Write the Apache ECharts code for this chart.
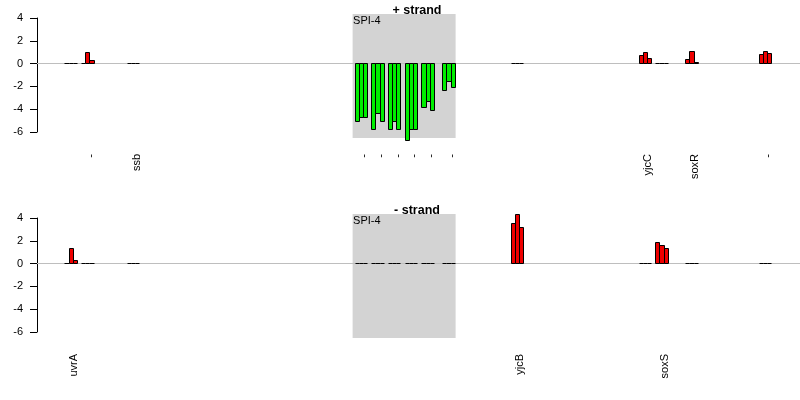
<!DOCTYPE html>
<html><head><meta charset="utf-8">
<script src="https://cdn.jsdelivr.net/npm/echarts@6/dist/echarts.min.js"></script>
<style>html,body{margin:0;padding:0;background:#fff}#c{width:800px;height:400px}</style>
</head><body><div id="c"></div>
<script>
// group start positions (in bar-width units along the region)
const groupPos = [6.7, 10.7, 21.7, 76.3, 80.3, 84.3, 88.3, 92.3, 97.3, 113.7, 144.4, 148.4, 155.6, 173.2];
const plusLabels  = ['', '-', 'ssb', '-', '-', '-', '-', '-', '-', '', 'yjcC', '', 'soxR', '-'];
const minusLabels = ['uvrA', '', '', '', '', '', '', '', '', 'yjcB', '', 'soxS', '', ''];
const plusValues = [
  [0, 0, 0], [0, 1.0, 0.25], [0, 0, 0],
  [-5.09, -4.77, -4.77], [-5.74, -4.39, -5.12], [-5.74, -5.06, -5.74],
  [-6.71, -5.74, -5.74], [-3.88, -3.33, -4.12], [-2.38, -1.56, -2.12],
  [0, 0, 0], [0.75, 0.96, 0.46], [0, 0, 0], [0.37, 1.08, 0.13], [0.84, 1.08, 0.9]
];
const minusValues = [
  [0, 1.35, 0.27], [0, 0, 0], [0, 0, 0],
  [0, 0, 0], [0, 0, 0], [0, 0, 0], [0, 0, 0], [0, 0, 0], [0, 0, 0],
  [3.54, 4.34, 3.19], [0, 0, 0], [1.86, 1.59, 1.33], [0, 0, 0], [0, 0, 0]
];
const regionName = 'SPI-4';
const regionRange = [75.7, 100.4];
const regionY = [-6.53, 4.35];
const panelTitles = ['+ strand', '- strand'];
const xRange = [0, 183];
const yRange = [-6, 4];

const FONT = '"Liberation Sans", Arial, Helvetica, sans-serif';

function barData(values) {
  const d = [];
  values.forEach((g, i) => g.forEach((v, j) => d.push([groupPos[i] + j, v])));
  return d;
}
function labelCenters(labels) {
  return groupPos.map((p, i) => ({ v: p + 1.5, l: labels[i] })).filter(o => o.l !== '');
}
const crisp = v => Math.round(v - 0.5) + 0.5;

function renderBar(params, api) {
  const x = api.value(0), v = api.value(1);
  const p0 = api.coord([x, 0]), p1 = api.coord([x + 1, v]);
  const x0 = crisp(p0[0]), x1 = crisp(p1[0]), y0 = crisp(p0[1]), y1 = crisp(p1[1]);
  if (v === 0) {
    return { type: 'line', shape: { x1: x0, y1: y0, x2: x1, y2: y0 }, style: { stroke: '#000', lineWidth: 1 } };
  }
  return {
    type: 'rect',
    shape: { x: x0, y: Math.min(y0, y1), width: x1 - x0, height: Math.abs(y1 - y0) },
    style: { fill: v < 0 ? '#00EE00' : '#EE0000', stroke: '#000', lineWidth: 1 }
  };
}
function renderRegion(params, api) {
  const a = api.coord([api.value(0), regionY[1]]);
  const b = api.coord([api.value(1), regionY[0]]);
  return {
    type: 'group',
    children: [
      { type: 'rect', shape: { x: a[0], y: a[1], width: b[0] - a[0], height: b[1] - a[1] }, style: { fill: '#D3D3D3' } },
      { type: 'text', x: a[0] + 0.5, y: a[1] + 1, style: { text: regionName, font: '11px ' + FONT, fill: '#000', align: 'left', verticalAlign: 'top' } }
    ]
  };
}
function renderBase(params, api) {
  const a = api.coord([api.value(0), 0]);
  const b = api.coord([api.value(1), 0]);
  return { type: 'line', shape: { x1: a[0], y1: crisp(a[1]), x2: b[0], y2: crisp(a[1]) }, style: { stroke: '#BEBEBE', lineWidth: 1 } };
}

const panels = [
  { labels: plusLabels, values: plusValues, top: 18 },
  { labels: minusLabels, values: minusValues, top: 218 }
];

const option = {
  animation: false,
  backgroundColor: '#fff',
  grid: panels.map(p => ({ left: 37, right: 0, top: p.top, height: 114 })),
  xAxis: panels.map((p, i) => {
    const lc = labelCenters(p.labels);
    return {
      type: 'value', gridIndex: i, min: xRange[0], max: xRange[1],
      axisLine: { show: false }, axisTick: { show: false }, splitLine: { show: false },
      axisLabel: {
        customValues: lc.map(o => o.v),
        formatter: val => { const f = lc.find(o => Math.abs(o.v - val) < 1e-6); return f ? f.l : ''; },
        rotate: 90, margin: 22, fontSize: 11, color: '#000', fontFamily: FONT,
        verticalAlign: 'top', lineHeight: 6
      }
    };
  }),
  yAxis: panels.map((p, i) => ({
    type: 'value', gridIndex: i, min: yRange[0], max: yRange[1], interval: 2,
    axisLine: { show: true, lineStyle: { color: '#000', width: 1 } },
    axisTick: { show: true, length: 7, lineStyle: { color: '#000' } },
    axisLabel: { fontSize: 11, color: '#000', margin: 14, fontFamily: FONT },
    splitLine: { show: false }
  })),
  graphic: panelTitles.map((t, i) => ({
    type: 'text', x: 417, y: panels[i].top - 14,
    style: { text: t, font: 'bold 12.5px ' + FONT, fill: '#000', align: 'center', verticalAlign: 'top' }
  })),
  series: []
};
panels.forEach((p, i) => {
  option.series.push({
    type: 'custom', xAxisIndex: i, yAxisIndex: i, clip: false, z: 0, silent: true,
    renderItem: renderRegion, encode: { x: [0, 1] }, data: [regionRange]
  });
  option.series.push({
    type: 'custom', xAxisIndex: i, yAxisIndex: i, clip: false, z: 1, silent: true,
    renderItem: renderBase, encode: { x: [0, 1] }, data: [xRange]
  });
  option.series.push({
    type: 'custom', xAxisIndex: i, yAxisIndex: i, clip: false, z: 2,
    renderItem: renderBar, encode: { x: 0, y: 1 }, data: barData(p.values)
  });
});
const chart = echarts.init(document.getElementById('c'), null, { renderer: 'canvas' });
chart.setOption(option);
</script></body></html>
